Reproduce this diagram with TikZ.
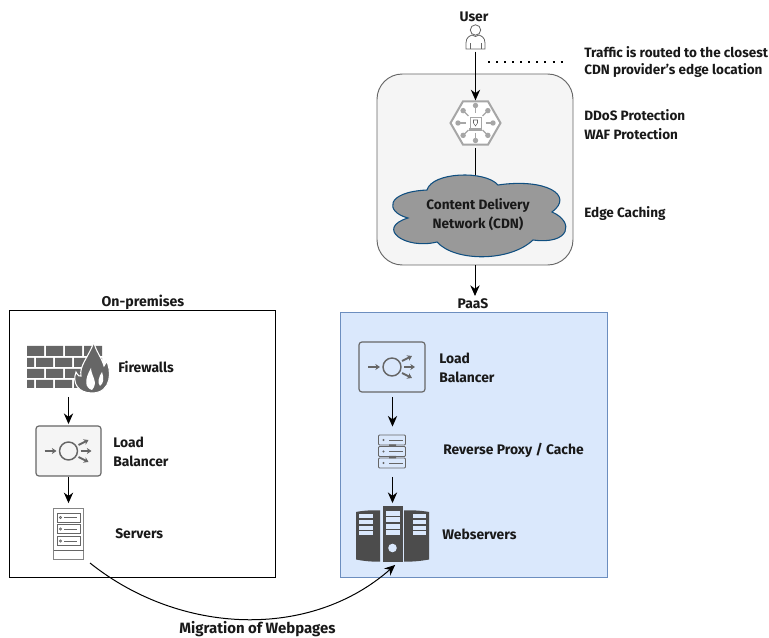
\documentclass[tikz,border=0pt]{standalone}
\usepackage{fontspec}
\setmainfont{Fira Sans}
\usetikzlibrary{arrows.meta,shapes.geometric}
\definecolor{icon}{HTML}{666666}
\definecolor{hexg}{HTML}{A6A6A6}
\definecolor{paasbg}{HTML}{DAE8FC}
\definecolor{paasln}{HTML}{6C8EBF}
\tikzset{
 x=0.75pt,y=-0.75pt,
 lbl/.style={font=\fontsize{10.4pt}{12pt}\selectfont\bfseries,inner sep=0pt,text=black!90},
 lblw/.style={lbl,anchor=west},
 lbltight/.style={lblw,font=\fontsize{10.15pt}{12pt}\selectfont\bfseries},
 arr/.style={-{Stealth[length=8pt,width=7pt]},line width=0.75pt,black},
 plain/.style={line width=0.75pt,black},
 lbbox/.style={rectangle,draw=icon,rounded corners=2.2pt,line width=0.9pt,inner sep=0pt},
 lbin/.pic={
  \draw[icon,line width=1.4pt,-{Stealth[length=3.5pt,width=4.5pt]}] (-24,0)--(-12,0);
  \draw[icon,line width=1.1pt] (0,0) circle (9);
  \draw[icon,line width=1.4pt,-{Stealth[length=3.5pt,width=4.5pt]}] (10,-6)--(20,-11);
  \draw[icon,line width=1.4pt,-{Stealth[length=3.5pt,width=4.5pt]}] (12,0)--(23,0);
  \draw[icon,line width=1.4pt,-{Stealth[length=3.5pt,width=4.5pt]}] (10,6)--(20,11);
 },
}
\begin{document}
\begin{tikzpicture}
\useasboundingbox (0,0) rectangle (769,638);
% containers
\node[rectangle,draw=icon,fill=black!4,rounded corners=19pt,line width=0.7pt,minimum width=147pt,minimum height=143.25pt,inner sep=0pt] (edge) at (475,169.5) {};
\node[rectangle,draw=black,line width=0.75pt,minimum width=199.5pt,minimum height=199.5pt,inner sep=0pt] (onprem) at (142,444) {};
\node[rectangle,fill=paasbg,draw=paasln,line width=0.7pt,minimum width=200.25pt,minimum height=198.75pt,inner sep=0pt] (paas) at (473.5,444.5) {};
% user
\node[inner sep=0pt,minimum width=15pt,minimum height=20pt] (user) at (475.5,36) {};
\draw[icon,line width=0.6pt,fill=white] (466,49) -- (466,43) .. controls (466,37) and (470,36) .. (472,35) .. controls (474,37) and (477,37) .. (479,35) .. controls (481,36) and (485,37) .. (485,43) -- (485,49) -- cycle;
\draw[icon,line width=0.6pt,fill=white] (475.5,30) circle (5.2);
\draw[icon,line width=0.6pt] (470,49) -- (470,43) (481,49) -- (481,43);
\coordinate (dotA) at (488,62);
\coordinate (dotB) at (566,62);
\draw[black,line width=1.5pt,dash pattern=on 1.5pt off 4.55pt] (dotA) -- (dotB);
% hexagon
\coordinate (hexlow) at (475.5,148);
\coordinate (cldtop) at (475.5,190);
\draw[plain] (hexlow) -- (cldtop);
\node[regular polygon,regular polygon sides=6,inner sep=0pt,minimum size=37.5pt,draw=hexg,fill=white,line width=1.5pt] (hex) at (475.5,123) {};
\foreach \a in {0,45,...,315}{
 \draw[hexg,line width=0.9pt] (hex.center) ++(\a:10) -- ++(\a:7);
 \fill[hexg] (hex.center) ++(\a:17.5) circle (2.7);
}
\draw[hexg,fill=white,line width=0.7pt] (470,117.5) rectangle (481,128);
\fill[hexg] (469,128.5) rectangle (482,131);
\draw[icon,line width=0.4pt] (473.5,120) -- (477.5,120) -- (477.5,123) -- (475.5,126) -- (473.5,123) -- cycle;
% cloud
\path[draw={rgb,255:red,16;green,79;blue,128},fill=black!40,line width=0.8pt]
 (408,218) .. controls (385,212) and (385,192) .. (427,190)
 .. controls (432,172) and (485,170) .. (498,185)
 .. controls (545,178) and (575,195) .. (552,212)
 .. controls (575,222) and (570,245) .. (533,240)
 .. controls (510,262) and (455,262) .. (437,242)
 .. controls (405,250) and (375,228) .. (408,218) -- cycle;
\node[lbl,align=center,minimum width=100pt,font=\fontsize{10.2pt}{12pt}\selectfont\bfseries] (cdn) at (478,214.5) {Content Delivery\\[2.3pt]Network (CDN)};
% on-prem icons
\node[inner sep=0pt,minimum width=62pt,minimum height=38pt] (fw) at (68.5,369) {};
\fill[icon]
 (27,346) rectangle (44,356) (46,346) rectangle (63,356) (65,346) rectangle (82,356) (84,346) rectangle (102,356)
 (27,358) rectangle (34,367) (36,358) rectangle (53,367) (55,358) rectangle (72,367) (74,358) rectangle (91,367) (93,358) rectangle (102,367)
 (27,369) rectangle (44,378) (46,369) rectangle (63,378) (65,369) rectangle (82,378) (84,369) rectangle (102,378)
 (27,380) rectangle (34,388) (36,380) rectangle (53,388) (55,380) rectangle (72,388) (74,380) rectangle (91,388);
\path[fill=icon,draw=white,line width=0.8pt]
 (92,393) .. controls (78,393) and (72,383) .. (76,372)
 .. controls (78,376) and (80,377) .. (81,376)
 .. controls (79,366) and (88,358) .. (94,342)
 .. controls (95,350) and (102,358) .. (104,366)
 .. controls (106,364) and (106,362) .. (106,360)
 .. controls (112,370) and (112,393) .. (92,393) -- cycle;
\fill[white] (92,390) .. controls (85,388) and (84,380) .. (91,368) .. controls (91,376) and (99,382) .. (92,390) -- cycle;
\fill[white] (100,386) .. controls (97,383) and (99,376) .. (102,372) .. controls (104,378) and (104,383) .. (100,386) -- cycle;
\node[lbbox,fill=black!4,minimum width=48.75pt,minimum height=37.5pt] (lb1) at (68.5,451) {};
\pic at (lb1.center) {lbin};
\node[rectangle,draw=icon!80,fill=white,line width=0.7pt,inner sep=0pt,minimum width=23pt,minimum height=38.5pt] (srv) at (68.5,534) {};
\foreach \yy in {517.5,529,541}{
 \draw[icon,line width=0.6pt] (57,\yy-4.5) rectangle (80.5,\yy+4.5);
 \draw[icon,line width=0.5pt] (60.5,\yy) circle (1.2);
 \draw[icon,line width=0.6pt] (64,\yy) -- (77,\yy);
}
\draw[icon,line width=0.6pt] (53.5,550) -- (83.5,550);
% PaaS icons
\node[lbbox,minimum width=49.5pt,minimum height=37.5pt] (lb2) at (392,367) {};
\pic at (lb2.center) {lbin};
\node[inner sep=0pt,minimum width=21pt,minimum height=25pt] (proxy) at (392.5,451.5) {};
\foreach \yy in {440,451.5,463}{
 \draw[icon,line width=0.7pt,rounded corners=0.8pt] (378.5,\yy-5) rectangle (405.5,\yy+5);
 \fill[icon] (383.5,\yy) circle (1.1);
 \draw[icon,line width=0.6pt] (389,\yy) -- (403,\yy);
}
\fill[icon] (389,444.5) rectangle (396,447) (389,456) rectangle (396,458.5);
\node[inner sep=0pt,minimum width=15pt,minimum height=42pt,fill=black!70] (web) at (392.5,534) {};
\foreach \yy in {511,517.5,524,530.5}{\fill[paasbg] (385.5,\yy) rectangle (399.5,\yy+5);}
\fill[paasbg] (392.5,548) circle (4.3);
\fill[black!70] (356,512) .. controls (363,510.5) and (373,510) .. (380,510.5) -- (380,561.5) .. controls (373,562) and (363,561) .. (356,559.5) -- cycle;
\fill[black!70] (404,510.5) .. controls (411,510) and (421,510.5) .. (429,512) -- (429,559.5) .. controls (421,561) and (411,562) .. (404,561.5) -- cycle;
\foreach \yy in {514,520,526,531.5}{
 \fill[paasbg] (358.5,\yy) rectangle (372.5,\yy+3.8);
 \fill[paasbg] (412.5,\yy) rectangle (426,\yy+3.8);
}
% connectors
\draw[arr,shorten <=1.5pt] (user.south) -- (hex.north);
\coordinate (paastip) at (475,296);
\draw[arr] (edge.south) -- (paastip);
\coordinate (a1) at (68.5,397); \coordinate (a3) at (392.5,477); \coordinate (a2) at (392.5,397);
\draw[arr,shorten >=1pt] (a1) -- (lb1.north);
\draw[arr,shorten >=3.5pt] (lb1.south) -- (srv.north);
\draw[arr,shorten >=6pt] (a2) -- (proxy.north);
\draw[arr,shorten >=2pt] (a3) -- (web.north);
\coordinate (mig) at (90,563);
\draw[arr] (mig) .. controls (180,635) and (310,640) .. ([xshift=2pt,yshift=-2pt]web.south);
% labels
\node[lbl] (tuser) at (474,17) {User};
\node[lbltight] (t1) at (584,52) {Traffic is routed to the closest};
\node[lbltight] (t2) at (584,71) {CDN provider's edge location};
\node[lbltight] (t3) at (584,115) {DDoS Protection};
\node[lbltight] (t4) at (584,134) {WAF Protection};
\node[lbltight] (t5) at (584,214) {Edge Caching};
\node[lbl,font=\fontsize{10.6pt}{12pt}\selectfont\bfseries] (tpre) at (143,302) {On-premises};
\node[lbl] (tpaas) at (473,303.5) {PaaS};
\node[lblw] (t6) at (118,367) {Firewalls};
\node[lblw] (t7) at (113,442) {Load};
\node[lblw] (t8) at (113,461) {Balancer};
\node[lblw] (t9) at (115,534) {Servers};
\node[lblw] (t10) at (439,358) {Load};
\node[lblw] (t11) at (439,377) {Balancer};
\node[lblw] (t12) at (443,450) {Reverse Proxy / Cache};
\node[lblw] (t13) at (442,534) {Webservers};
\node[lbl,font=\fontsize{11.2pt}{12pt}\selectfont\bfseries] (t14) at (257.5,629.5) {Migration of Webpages};
\end{tikzpicture}
\end{document}
